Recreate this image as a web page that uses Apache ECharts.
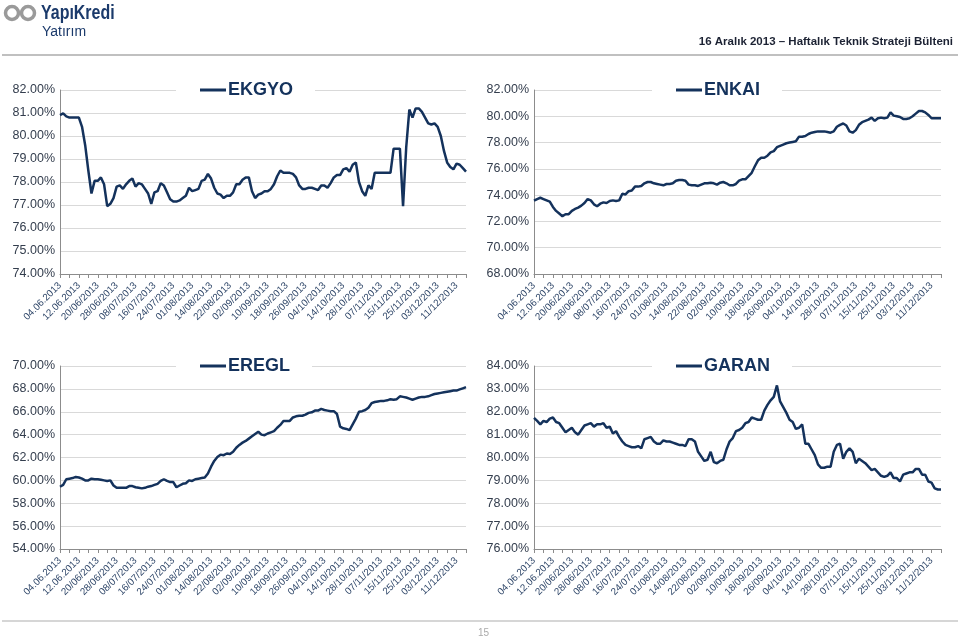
<!DOCTYPE html>
<html><head><meta charset="utf-8">
<script src="https://cdn.jsdelivr.net/npm/echarts@6/dist/echarts.min.js"></script>
<style>html,body{margin:0;padding:0;background:#fff}#c{width:960px;height:639px}</style>
</head><body><div id="c"></div>
<script>
const dates = [
"04.06.2013","05.06.2013","06.06.2013","07.06.2013","10.06.2013","11.06.2013","12.06.2013","13.06.2013","14.06.2013","17.06.2013",
"18.06.2013","19.06.2013","20/06/2013","21/06/2013","24/06/2013","25/06/2013","26/06/2013","27/06/2013","28/06/2013",
"01/07/2013","02/07/2013","03/07/2013","04/07/2013","05/07/2013","08/07/2013","09/07/2013","10/07/2013","11/07/2013","12/07/2013",
"15/07/2013","16/07/2013","17/07/2013","18/07/2013","19/07/2013","22/07/2013","23/07/2013","24/07/2013","25/07/2013","26/07/2013",
"29/07/2013","30/07/2013","31/07/2013",
"01/08/2013","02/08/2013","05/08/2013","06/08/2013","12/08/2013","13/08/2013","14/08/2013","15/08/2013","16/08/2013","19/08/2013",
"20/08/2013","21/08/2013","22/08/2013","23/08/2013","26/08/2013","27/08/2013","28/08/2013","29/08/2013",
"02/09/2013","03/09/2013","04/09/2013","05/09/2013","06/09/2013","09/09/2013","10/09/2013","11/09/2013","12/09/2013","13/09/2013",
"16/09/2013","17/09/2013","18/09/2013","19/09/2013","20/09/2013","23/09/2013","24/09/2013","25/09/2013","26/09/2013","27/09/2013","30/09/2013",
"01/10/2013","02/10/2013","03/10/2013","04/10/2013","07/10/2013","08/10/2013","09/10/2013","10/10/2013","11/10/2013","14/10/2013",
"21/10/2013","22/10/2013","23/10/2013","24/10/2013","25/10/2013","28/10/2013","31/10/2013",
"01/11/2013","04/11/2013","05/11/2013","06/11/2013","07/11/2013","08/11/2013","11/11/2013","12/11/2013","13/11/2013","14/11/2013",
"15/11/2013","18/11/2013","19/11/2013","20/11/2013","21/11/2013","22/11/2013","25/11/2013","26/11/2013","27/11/2013","28/11/2013","29/11/2013",
"02/12/2013","03/12/2013","04/12/2013","05/12/2013","06/12/2013","09/12/2013","10/12/2013","11/12/2013","12/12/2013","13/12/2013","16/12/2013"
];

const ekgyo = [80.91,80.98,80.85,80.8,80.8,80.8,80.8,80.4,79.6,78.5,77.5,78.05,78.05,78.2,77.9,76.95,77.05,77.3,77.8,77.85,
77.7,77.9,78.05,78.15,77.8,77.95,77.9,77.7,77.5,77.05,77.55,77.6,77.95,77.85,77.55,77.25,77.15,77.15,77.2,77.3,
77.4,77.75,77.6,77.65,77.7,78.05,78.1,78.35,78.15,77.75,77.5,77.45,77.3,77.4,77.4,77.55,77.9,77.9,78.1,78.2,
78.2,77.6,77.3,77.45,77.5,77.6,77.6,77.7,77.9,78.25,78.5,78.4,78.4,78.4,78.35,78.2,77.85,77.7,77.7,77.75,
77.75,77.7,77.65,77.85,77.85,77.75,77.95,78.2,78.3,78.3,78.55,78.6,78.45,78.75,78.85,78.0,77.6,77.4,77.85,77.7,
78.4,78.4,78.4,78.4,78.4,78.4,79.45,79.45,79.45,76.95,79.5,81.15,80.8,81.2,81.2,81.05,80.8,80.55,80.5,80.55,
80.4,80.0,79.35,78.85,78.65,78.55,78.8,78.75,78.6,78.45];

const enkai = [73.58,73.7,73.8,73.7,73.6,73.5,73.1,72.8,72.6,72.4,72.55,72.55,72.8,72.95,73.05,73.2,73.4,73.7,73.6,73.3,
73.15,73.35,73.45,73.4,73.55,73.6,73.55,73.6,74.1,74.05,74.3,74.35,74.65,74.65,74.7,74.9,75.0,75.0,74.9,74.85,
74.8,74.75,74.85,74.85,74.9,75.1,75.15,75.15,75.1,74.8,74.75,74.75,74.7,74.8,74.9,74.9,74.95,74.9,74.8,74.95,
75.0,74.9,74.75,74.75,74.85,75.1,75.2,75.2,75.45,75.7,76.2,76.65,76.85,76.85,77.0,77.25,77.35,77.65,77.75,77.85,
77.95,78.0,78.05,78.1,78.45,78.45,78.5,78.65,78.75,78.8,78.85,78.85,78.85,78.8,78.75,78.85,79.2,79.35,79.45,79.3,
78.85,78.75,78.95,79.35,79.55,79.65,79.75,79.9,79.65,79.85,79.9,79.85,79.9,80.3,80.05,80.0,79.95,79.8,79.8,79.85,
80.0,80.2,80.4,80.4,80.3,80.1,79.85,79.85,79.85,79.85];

const eregl = [59.44,59.6,60.1,60.15,60.2,60.3,60.25,60.15,60.0,60.0,60.15,60.1,60.1,60.05,60.0,59.95,60.0,59.55,59.35,59.35,
59.35,59.35,59.5,59.5,59.4,59.35,59.3,59.35,59.45,59.5,59.6,59.7,59.95,60.1,59.95,59.85,59.85,59.4,59.55,59.7,
59.75,60.0,59.95,60.1,60.15,60.2,60.25,60.6,61.2,61.7,62.05,62.25,62.2,62.35,62.3,62.5,62.85,63.1,63.3,63.45,
63.65,63.85,64.05,64.25,64.0,63.95,64.1,64.2,64.3,64.6,64.85,65.2,65.2,65.2,65.5,65.6,65.65,65.65,65.75,65.9,
65.95,66.1,66.1,66.25,66.15,66.1,66.05,66.05,65.8,64.7,64.55,64.5,64.4,64.9,65.4,66.0,66.05,66.15,66.35,66.75,
66.85,66.9,66.95,66.95,67.0,67.1,67.05,67.1,67.35,67.3,67.25,67.15,67.05,67.15,67.25,67.3,67.3,67.35,67.45,67.55,
67.6,67.65,67.7,67.75,67.8,67.85,67.85,67.95,68.05,68.15];

const garan = [81.73,81.6,81.45,81.6,81.55,81.7,81.75,81.55,81.5,81.3,81.1,81.2,81.3,81.1,81.0,81.2,81.4,81.45,81.5,81.35,
81.45,81.45,81.5,81.3,81.35,81.05,81.15,80.9,80.7,80.55,80.5,80.45,80.45,80.5,80.4,80.8,80.85,80.9,80.7,80.6,
80.6,80.75,80.7,80.7,80.65,80.6,80.55,80.55,80.5,80.8,80.8,80.7,80.25,80.05,79.85,79.9,80.25,79.8,79.75,79.85,
79.9,80.35,80.7,80.85,81.15,81.2,81.3,81.5,81.55,81.75,81.7,81.65,81.65,82.05,82.3,82.5,82.65,83.15,82.45,82.2,
81.95,81.65,81.55,81.25,81.3,81.45,80.6,80.6,80.35,80.1,79.7,79.55,79.55,79.6,79.6,80.25,80.55,80.6,79.95,80.25,
80.4,80.25,79.75,79.95,79.85,79.75,79.6,79.45,79.5,79.35,79.2,79.15,79.2,79.35,79.1,79.1,78.95,79.25,79.3,79.35,
79.35,79.5,79.5,79.25,79.25,78.95,78.9,78.65,78.6,78.6];

const names = ["EKGYO","ENKAI","EREGL","GARAN"];
const seriesData = [ekgyo, enkai, eregl, garan];
const yMin = [74, 68, 54, 76];
const yMax = [82, 82, 70, 84];
const yStep = [1, 2, 2, 1];

const NAVY = '#14325C';
const FONT = 'Liberation Sans, Arial, sans-serif';
const grids = [
  {left:60, top:90, width:406, height:184},
  {left:534, top:90, width:407, height:184},
  {left:60, top:366, width:406, height:183},
  {left:534, top:366, width:407, height:183}
];
const legendPos = [{left:176, top:80},{left:652, top:80},{left:176, top:356},{left:652, top:356}];

const chart = echarts.init(document.getElementById('c'), null, {renderer:'canvas'});
const option = {
  animation:false,
  backgroundColor:'#fff',
  textStyle:{fontFamily:FONT},
  grid: grids,
  legend: names.map((n,i)=>({
    data:[n], left:legendPos[i].left, top:legendPos[i].top,
    backgroundColor:'#fff', padding:[1,22,1,24],
    icon:'rect', itemWidth:26, itemHeight:3,
    textStyle:{fontSize:18, fontWeight:'bold', color:NAVY, fontFamily:FONT, padding:[0,0,0,-3]},
    selectedMode:false
  })),
  xAxis: names.map((n,i)=>({
    type:'category', gridIndex:i, data:dates, boundaryGap:false,
    axisLine:{lineStyle:{color:'#8c8c8c', width:1}},
    axisTick:{interval:2, length:4, lineStyle:{color:'#8c8c8c'}},
    axisLabel:{interval:5, rotate:45, fontSize:9.8, color:'#2B4366', margin:10}
  })),
  yAxis: names.map((n,i)=>({
    type:'value', gridIndex:i, min:yMin[i], max:yMax[i], interval:yStep[i],
    axisLine:{show:true, lineStyle:{color:'#8c8c8c'}},
    axisTick:{show:false},
    splitLine:{lineStyle:{color:'#d9d9d9'}},
    axisLabel:{fontSize:12.5, color:'#333d4d', margin:5, formatter:v=>v.toFixed(2)+'%'}
  })),
  series: names.map((n,i)=>({
    name:n, type:'line', xAxisIndex:i, yAxisIndex:i, data:seriesData[i],
    symbol:'none', lineStyle:{color:NAVY, width:2.5}, itemStyle:{color:NAVY}, z:3
  })),
  graphic: [
    {type:'circle', shape:{cx:12, cy:13, r:6.5}, style:{fill:'none', stroke:'#9a9a9a', lineWidth:3.5}},
    {type:'circle', shape:{cx:28, cy:13, r:6.5}, style:{fill:'none', stroke:'#9a9a9a', lineWidth:3.5}},
    {type:'text', x:41, y:3, scaleX:0.76, style:{text:'YapıKredi', fontSize:21, fontWeight:'bold', fill:'#1B3A6B', fontFamily:FONT}},
    {type:'text', left:42, top:25, style:{text:'Yatırım', fontSize:14, fill:'#1B3A6B', fontFamily:FONT}},
    {type:'text', right:7, top:36, style:{text:'16 Aralık 2013 – Haftalık Teknik Strateji Bülteni', fontSize:11.5, fontWeight:'bold', fill:'#1c2233', fontFamily:FONT}},
    {type:'line', shape:{x1:2, y1:55, x2:958, y2:55}, style:{stroke:'#c0c0c0', lineWidth:2}},
    {type:'line', shape:{x1:2, y1:621, x2:958, y2:621}, style:{stroke:'#c8c8c8', lineWidth:1.5}},
    {type:'text', left:478, top:628, style:{text:'15', fontSize:10, fill:'#aaaaaa', fontFamily:FONT}}
  ]
};
chart.setOption(option);
</script>
</body></html>
